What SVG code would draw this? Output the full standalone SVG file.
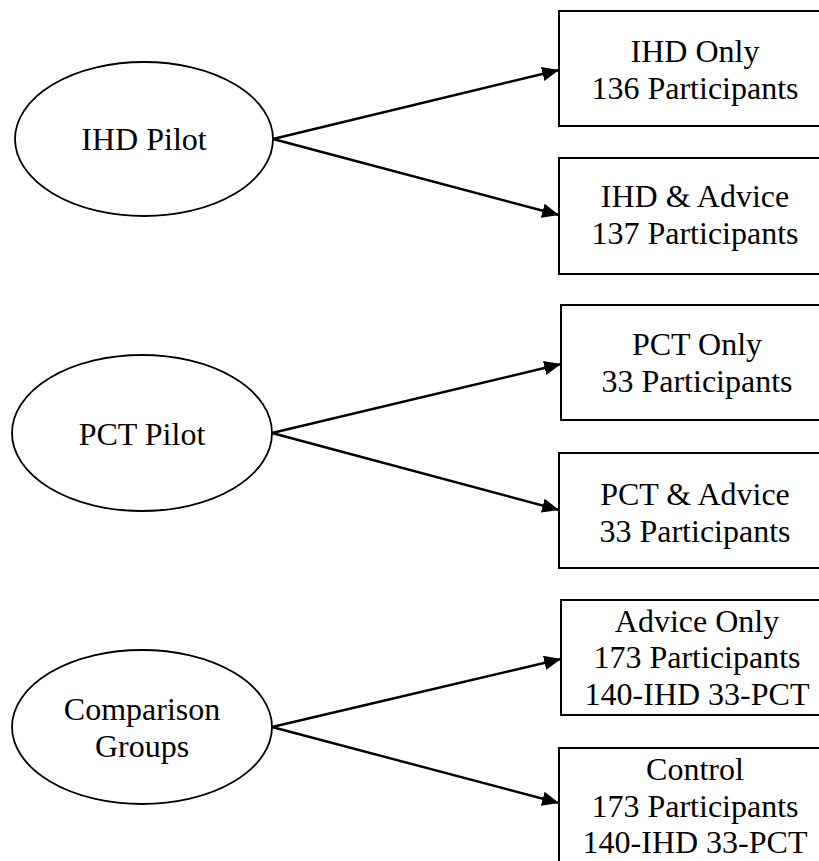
<svg xmlns="http://www.w3.org/2000/svg" width="819" height="861" viewBox="0 0 819 861">
<style>
  text { font-family: "Liberation Serif", "DejaVu Serif", "Times New Roman", Times, serif; font-size: 32px; fill: #000; text-anchor: middle; }
  .box { fill: #fff; stroke: #000; stroke-width: 2; }
  .ell { fill: #fff; stroke: #000; stroke-width: 1.8; }
  .arrow { stroke: #000; stroke-width: 2.4; fill: none; marker-end: url(#ah); }
</style>
<defs>
  <marker id="ah" markerWidth="7" markerHeight="6" refX="7" refY="3" orient="auto" markerUnits="strokeWidth">
    <path d="M0,0 L7,3 L0,6 Z" fill="#000"/>
  </marker>
</defs>
<rect width="819" height="861" fill="#fff"/>
<g id="connectors">
  <line class="arrow" x1="273" y1="139" x2="559" y2="70"/>
  <line class="arrow" x1="273" y1="139" x2="559" y2="215"/>
  <line class="arrow" x1="272" y1="433" x2="561" y2="364"/>
  <line class="arrow" x1="272" y1="433" x2="559" y2="510"/>
  <line class="arrow" x1="272" y1="727" x2="561" y2="659"/>
  <line class="arrow" x1="272" y1="727" x2="559" y2="803"/>
</g>
<g id="ihd-pilot">
  <ellipse class="ell" cx="144" cy="139" rx="129" ry="77"/>
  <text x="144" y="150">IHD Pilot</text>
</g>
<g id="ihd-only">
  <rect class="box" x="559" y="11" width="280" height="115"/>
  <text x="695" y="62">IHD Only</text>
  <text x="695" y="99">136 Participants</text>
</g>
<g id="ihd-advice">
  <rect class="box" x="559" y="158" width="280" height="116"/>
  <text x="695" y="207">IHD &amp; Advice</text>
  <text x="695" y="244">137 Participants</text>
</g>
<g id="pct-pilot">
  <ellipse class="ell" cx="142" cy="433" rx="130" ry="78"/>
  <text x="142" y="445">PCT Pilot</text>
</g>
<g id="pct-only">
  <rect class="box" x="561" y="305" width="280" height="115"/>
  <text x="697" y="355">PCT Only</text>
  <text x="697" y="392">33 Participants</text>
</g>
<g id="pct-advice">
  <rect class="box" x="559" y="453" width="280" height="115"/>
  <text x="695" y="505">PCT &amp; Advice</text>
  <text x="695" y="542">33 Participants</text>
</g>
<g id="comparison">
  <ellipse class="ell" cx="142" cy="727" rx="130" ry="77"/>
  <text x="142" y="720">Comparison</text>
  <text x="142" y="757">Groups</text>
</g>
<g id="advice-only">
  <rect class="box" x="561" y="600" width="280" height="115"/>
  <text x="697" y="632">Advice Only</text>
  <text x="697" y="668">173 Participants</text>
  <text x="697" y="705">140-IHD 33-PCT</text>
</g>
<g id="control">
  <rect class="box" x="559" y="748" width="280" height="130"/>
  <text x="695" y="780">Control</text>
  <text x="695" y="817">173 Participants</text>
  <text x="695" y="853">140-IHD 33-PCT</text>
</g>
</svg>
